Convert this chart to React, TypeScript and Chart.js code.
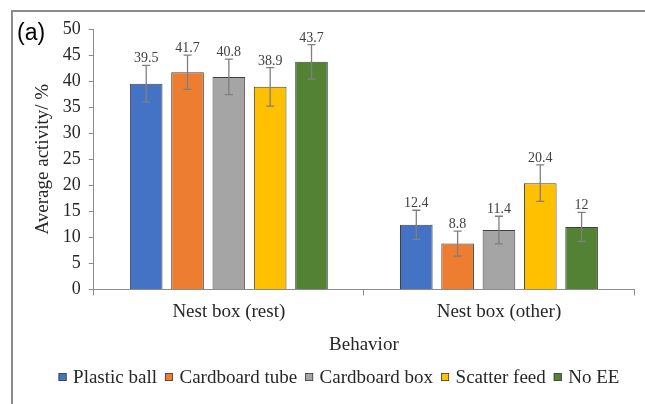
import React, { useEffect, useRef } from "react";
import { Chart, registerables } from "chart.js";
Chart.register(...registerables);

const categories = ["Nest box (rest)", "Nest box (other)"];
const seriesNames = ["Plastic ball", "Cardboard tube", "Cardboard box", "Scatter feed", "No EE"];
const plasticBall = [39.5, 12.4];
const cardboardTube = [41.7, 8.8];
const cardboardBox = [40.8, 11.4];
const scatterFeed = [38.9, 20.4];
const noEE = [43.7, 12];
const plasticBallErr = [3.5, 2.8];
const cardboardTubeErr = [3.3, 2.4];
const cardboardBoxErr = [3.4, 2.65];
const scatterFeedErr = [3.7, 3.5];
const noEEErr = [3.3, 2.8];
const yMin = 0;
const yMax = 50;
const yStep = 5;
const panelLabel = "(a)";
const xTitle = "Behavior";
const yTitle = "Average activity/ %";

const seriesValues = [plasticBall, cardboardTube, cardboardBox, scatterFeed, noEE];
const seriesErrors = [plasticBallErr, cardboardTubeErr, cardboardBoxErr, scatterFeedErr, noEEErr];
const colors = ["#4472C4", "#ED7D31", "#A5A5A5", "#FFC000", "#548235"];

const SERIF = "Liberation Serif, DejaVu Serif, serif";

const customPlugin = {
  id: "customDecor",
  beforeDraw(chart: any) {
    const ctx = chart.ctx;
    ctx.save();
    ctx.fillStyle = "#ffffff";
    ctx.fillRect(0, 0, chart.width, chart.height);
    ctx.strokeStyle = "#8c8c8c";
    ctx.lineWidth = 2;
    ctx.beginPath();
    ctx.moveTo(12, chart.height);
    ctx.lineTo(12, 11);
    ctx.lineTo(chart.width, 11);
    ctx.stroke();
    ctx.restore();
  },
  afterDatasetsDraw(chart: any) {
    const ctx = chart.ctx;
    const yScale = chart.scales.y;
    ctx.save();
    chart.data.datasets.forEach((ds: any, i: number) => {
      const meta = chart.getDatasetMeta(i);
      meta.data.forEach((bar: any, j: number) => {
        const v = ds.data[j];
        const e = seriesErrors[i][j];
        const x = bar.x;
        const yTop = yScale.getPixelForValue(v + e);
        const yBot = yScale.getPixelForValue(v - e);
        ctx.strokeStyle = "#7f7f7f";
        ctx.lineWidth = 1.3;
        ctx.beginPath();
        ctx.moveTo(x, yTop);
        ctx.lineTo(x, yBot);
        ctx.moveTo(x - 4, yTop);
        ctx.lineTo(x + 4, yTop);
        ctx.moveTo(x - 4, yBot);
        ctx.lineTo(x + 4, yBot);
        ctx.stroke();
        ctx.fillStyle = "#404040";
        ctx.font = "14px " + SERIF;
        ctx.textAlign = "center";
        ctx.textBaseline = "alphabetic";
        ctx.fillText(String(v), x, yTop - 3);
      });
    });
    ctx.restore();
  },
  afterDraw(chart: any) {
    const ctx = chart.ctx;
    ctx.save();
    ctx.fillStyle = "#000000";
    ctx.font = "23px Liberation Sans, Arial, sans-serif";
    ctx.textAlign = "left";
    ctx.textBaseline = "middle";
    ctx.fillText(panelLabel, 17, 34);

    // legend
    ctx.font = "19px " + SERIF;
    const box = 8;
    const gapText = 6.5;
    const gapItem = 8;
    const widths = chart.data.datasets.map((d: any) => ctx.measureText(d.label).width);
    let total = 0;
    widths.forEach((w: number, i: number) => {
      total += box + gapText + w + (i < widths.length - 1 ? gapItem : 0);
    });
    let x = 339 - total / 2;
    const cy = 377;
    chart.data.datasets.forEach((d: any, i: number) => {
      ctx.fillStyle = d.backgroundColor;
      ctx.fillRect(x, cy - box / 2, box, box);
      ctx.strokeStyle = "#404040";
      ctx.lineWidth = 0.8;
      ctx.strokeRect(x + 0.4, cy - box / 2 + 0.4, box - 0.8, box - 0.8);
      x += box + gapText;
      ctx.fillStyle = "#262626";
      ctx.textAlign = "left";
      ctx.textBaseline = "middle";
      ctx.fillText(d.label, x, cy + 1);
      x += widths[i] + gapItem;
    });
    ctx.restore();
  },
};

export default function App() {
  const ref = useRef<HTMLCanvasElement | null>(null);
  useEffect(() => {
    document.body.style.margin = "0";
    let chart: any = null;
    let cancelled = false;
    const build = () => {
      if (cancelled || !ref.current) return;
      chart = new Chart(ref.current, {
        type: "bar",
        data: {
          labels: categories,
          datasets: seriesNames.map((name, i) => ({
            label: name,
            data: seriesValues[i],
            backgroundColor: colors[i],
            borderColor: "#404040",
            borderWidth: 1,
            barPercentage: 0.79,
            categoryPercentage: 0.765,
          })),
        },
        options: {
          responsive: false,
          animation: false,
          layout: { padding: { left: 29, top: 29, right: 11, bottom: 44 } },
          plugins: {
            legend: { display: false },
            tooltip: { enabled: false },
          },
          scales: {
            x: {
              grid: {
                offset: true,
                drawOnChartArea: false,
                drawTicks: true,
                tickLength: 6,
                color: "#8c8c8c",
              },
              border: { color: "#8c8c8c", width: 1 },
              ticks: {
                padding: 5,
                color: "#262626",
                font: { family: SERIF, size: 19 },
              },
              title: {
                display: true,
                text: xTitle,
                color: "#262626",
                font: { family: SERIF, size: 19 },
                padding: { top: 5, bottom: 4 },
              },
            },
            y: {
              min: yMin,
              max: yMax,
              ticks: {
                stepSize: yStep,
                padding: 8,
                color: "#262626",
                font: { family: SERIF, size: 18 },
              },
              grid: {
                drawOnChartArea: false,
                drawTicks: true,
                tickLength: 5,
                color: "#8c8c8c",
              },
              border: { color: "#8c8c8c", width: 1 },
              title: {
                display: true,
                text: yTitle,
                color: "#262626",
                font: { family: SERIF, size: 19 },
                padding: { top: 3, bottom: 0 },
              },
            },
          },
        },
        plugins: [customPlugin],
      });
    };
    const fontsApi: any = (document as any).fonts;
    if (fontsApi && fontsApi.load) {
      Promise.all([
        fontsApi.load("19px Liberation Serif"),
        fontsApi.load("23px Liberation Sans"),
      ]).then(build, build);
    } else {
      build();
    }
    return () => {
      cancelled = true;
      if (chart) chart.destroy();
    };
  }, []);
  return (
    <div style={{ width: 645, height: 404, position: "relative" }}>
      <span style={{ fontFamily: "Liberation Serif", position: "absolute", left: -9999, top: 0 }}>.</span>
      <canvas ref={ref} width={645} height={404} style={{ display: "block" }} />
    </div>
  );
}
